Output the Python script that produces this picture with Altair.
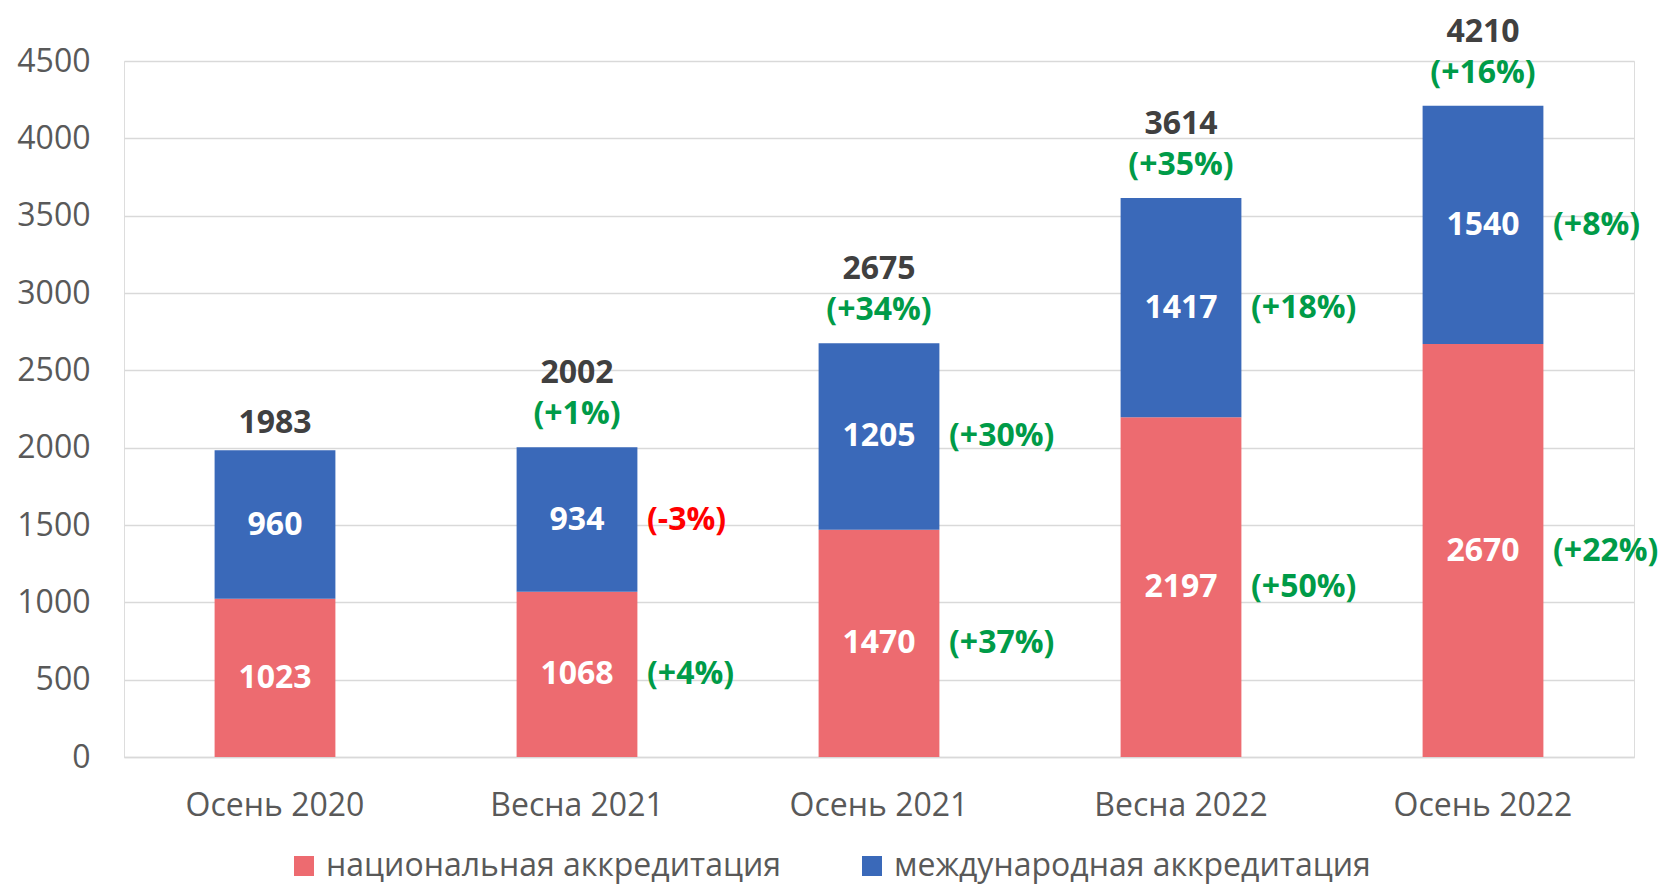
import altair as alt
import pandas as pd

periods = ["Осень 2020", "Весна 2021", "Осень 2021", "Весна 2022", "Осень 2022"]
national = [1023, 1068, 1470, 2197, 2670]
international = [960, 934, 1205, 1417, 1540]
totals = [1983, 2002, 2675, 3614, 4210]
total_change = ["", "(+1%)", "(+34%)", "(+35%)", "(+16%)"]
national_change = ["", "(+4%)", "(+37%)", "(+50%)", "(+22%)"]
international_change = ["", "(-3%)", "(+30%)", "(+18%)", "(+8%)"]
series_names = ["национальная аккредитация", "международная аккредитация"]
series_colors = ["#ED6B70", "#3A69B9"]

rows = []
for i, p in enumerate(periods):
    rows.append({"period": p, "series": series_names[0], "order": 0,
                 "value": national[i], "mid": national[i] / 2,
                 "change": national_change[i]})
    rows.append({"period": p, "series": series_names[1], "order": 1,
                 "value": international[i],
                 "mid": national[i] + international[i] / 2,
                 "change": international_change[i]})
seg = pd.DataFrame(rows)

tot = pd.DataFrame({"period": periods, "total": totals, "change": total_change})
tot["has_change"] = tot["change"] != ""

FONT = "Open Sans"
x_enc = alt.X("period:N", sort=periods,
              scale=alt.Scale(paddingInner=0.6, paddingOuter=0.3),
              axis=alt.Axis(title=None, labelAngle=0, labelFontSize=32,
                            labelColor="#595959", ticks=False,
                            domainColor="#D9D9D9", domainWidth=1.5,
                            labelPadding=33, labelFont=FONT))
y_scale = alt.Scale(domain=[0, 4500])

bars = alt.Chart(seg).mark_bar().encode(
    x=x_enc,
    y=alt.Y("value:Q", stack="zero", scale=y_scale,
            axis=alt.Axis(title=None, values=list(range(0, 4501, 500)),
                          format="d",
                          labelFontSize=32, labelColor="#595959",
                          labelPadding=34, ticks=False, domain=False,
                          gridColor="#D9D9D9", gridWidth=1.5,
                          labelFont=FONT)),
    color=alt.Color("series:N",
                    scale=alt.Scale(domain=series_names, range=series_colors),
                    legend=alt.Legend(title=None, orient="none",
                                      direction="horizontal",
                                      legendX=164, legendY=789,
                                      symbolType="square", symbolSize=400,
                                      symbolStrokeWidth=0,
                                      labelFontSize=32, labelColor="#595959",
                                      labelFont=FONT, columnPadding=75,
                                      labelOffset=6, labelLimit=600)),
    order=alt.Order("order:Q"),
)

seg_labels = alt.Chart(seg).mark_text(
    color="white", fontSize=32, fontWeight="bold", font=FONT,
    baseline="middle"
).encode(x=alt.X("period:N", sort=periods), y=alt.Y("mid:Q", scale=y_scale),
         text="value:Q")

side_labels = alt.Chart(seg).transform_filter("datum.change != ''").mark_text(
    fontSize=32, fontWeight="bold", font=FONT, baseline="middle",
    align="left", dx=70
).encode(
    x=alt.X("period:N", sort=periods), y=alt.Y("mid:Q", scale=y_scale),
    text="change:N",
    color=alt.condition("indexof(datum.change, '-') >= 0",
                        alt.value("#FF0000"), alt.value("#009B48")),
)

total_hi = alt.Chart(tot).transform_filter("datum.has_change").mark_text(
    color="#404040", fontSize=32, fontWeight="bold", font=FONT,
    baseline="middle", dy=-74
).encode(x=alt.X("period:N", sort=periods), y=alt.Y("total:Q", scale=y_scale),
         text="total:Q")

total_lo = alt.Chart(tot).transform_filter("!datum.has_change").mark_text(
    color="#404040", fontSize=32, fontWeight="bold", font=FONT,
    baseline="middle", dy=-27
).encode(x=alt.X("period:N", sort=periods), y=alt.Y("total:Q", scale=y_scale),
         text="total:Q")

total_pct = alt.Chart(tot).transform_filter("datum.has_change").mark_text(
    color="#009B48", fontSize=32, fontWeight="bold", font=FONT,
    baseline="middle", dy=-33
).encode(x=alt.X("period:N", sort=periods), y=alt.Y("total:Q", scale=y_scale),
         text="change:N")

chart = alt.layer(bars, seg_labels, side_labels, total_hi, total_lo, total_pct).properties(
    width=1510, height=696,
    autosize=alt.AutoSizeParams(type="none"),
    padding={"left": 116, "top": 53, "right": 26, "bottom": 127},
).configure_view(stroke=None).configure(font=FONT)

chart.save("out.html", embed_options={"renderer": "svg", "actions": False})
